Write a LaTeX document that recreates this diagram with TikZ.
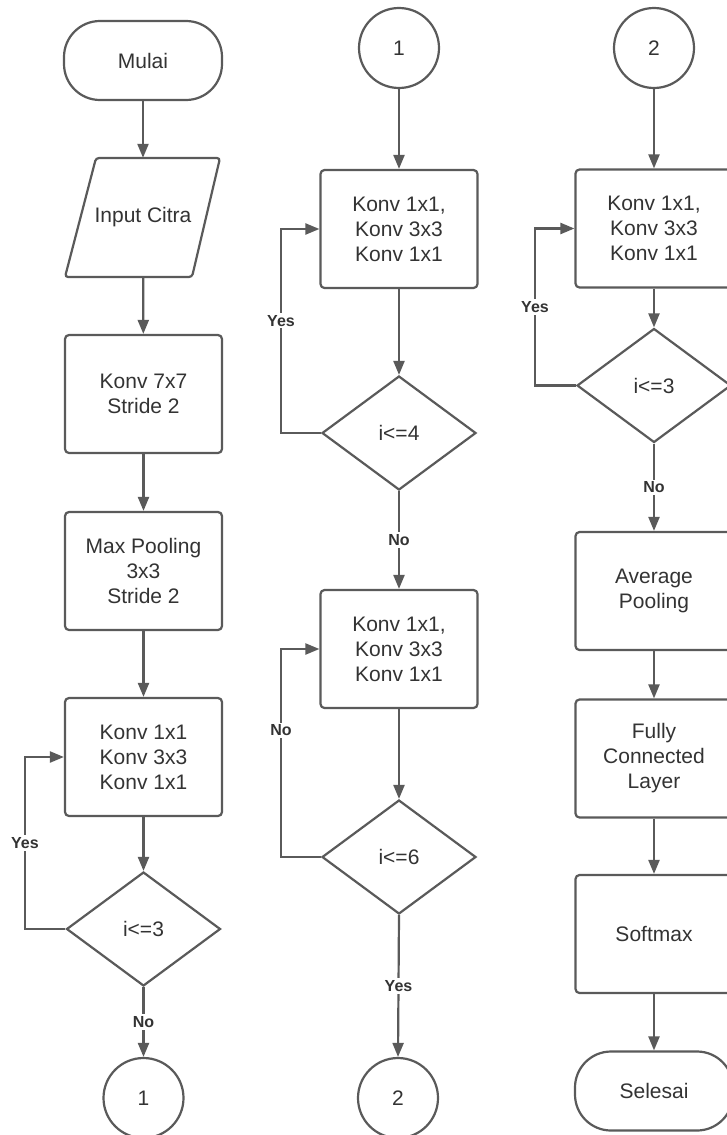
\documentclass[tikz,border=0pt]{standalone}
\usepackage{fontspec}
\setmainfont{Liberation Sans}
\usetikzlibrary{shapes.geometric,arrows.meta}
\definecolor{lc}{HTML}{5A5A5A}
\definecolor{tc}{HTML}{333333}
\begin{document}
\begin{tikzpicture}[x=1pt,y=-1pt,
  every node/.style={text=tc, font=\fontsize{21}{25}\selectfont},
  ln/.style={draw=lc, line width=2.2pt},
  arr/.style={ln, -{Triangle[length=14pt,width=11pt]}},
  proc/.style={draw=lc, line width=2.2pt, rounded corners=4pt, minimum width=157pt, minimum height=118pt, align=center, inner sep=0pt},
  term/.style={draw=lc, line width=2.2pt, rounded corners=36pt, minimum width=158pt, minimum height=79pt, inner sep=0pt},
  dec/.style={diamond, draw=lc, line width=2.2pt, aspect=1.35, minimum width=154pt, minimum height=114pt, inner sep=0pt},
  conn/.style={circle, draw=lc, line width=2.2pt, minimum size=80pt, inner sep=0pt},
  lab/.style={fill=white, font=\fontsize{16}{18}\selectfont\bfseries, inner sep=2pt},
]
\useasboundingbox[fill=white] (0,0) rectangle (726,1135);

% ---------- left column ----------
\node[term] (mulai) at (143,60.5) {Mulai};
\node[minimum width=100pt, minimum height=119pt, inner sep=0pt] (input) at (143,217.5) {Input Citra};
\draw[ln, rounded corners=3pt] (96,158) -- (220,158) -- (192,277) -- (65,277) -- cycle;
\node[proc] (k77) at (143.5,394) {Konv 7x7\\Stride 2};
\node[proc] (maxp) at (143.5,571) {Max Pooling\\3x3\\Stride 2};
\node[proc] (b1) at (143.5,757) {Konv 1x1\\Konv 3x3\\Konv 1x1};
\node[dec] (d1) at (143.5,929) {i<=3};
\node[conn] (c1) at (143.5,1098) {1};
\coordinate (l1a) at (25,929);
\coordinate (l1b) at (25,757);

\draw[arr] (mulai) -- (input);
\draw[arr] (input) -- (k77);
\draw[arr] (k77) -- (maxp);
\draw[arr] (maxp) -- (b1);
\draw[arr] (b1) -- (d1);
\draw[arr] (d1.west) -- (l1a) -- node[lab]{Yes} (l1b) -- (b1.west);
\draw[arr] (d1.south) -- node[lab]{No} (c1.north);

% ---------- middle column ----------
\node[conn] (m1) at (399,48) {1};
\node[proc] (b2) at (399,229) {Konv 1x1,\\Konv 3x3\\Konv 1x1};
\node[dec] (d2) at (399,433) {i<=4};
\node[proc] (b3) at (399,649) {Konv 1x1,\\Konv 3x3\\Konv 1x1};
\node[dec] (d3) at (399,857) {i<=6};
\node[conn] (c2) at (398,1098) {2};
\coordinate (l2a) at (281,433);
\coordinate (l2b) at (281,229);
\coordinate (l3a) at (281,857);
\coordinate (l3b) at (281,649);

\draw[arr] (m1) -- (b2);
\draw[arr] (b2) -- (d2);
\draw[arr] (d2.west) -- (l2a) -- node[lab, pos=0.55]{Yes} (l2b) -- (b2.west);
\draw[arr] (d2.south) -- node[lab]{No} (b3.north);
\draw[arr] (b3) -- (d3);
\draw[arr] (d3.west) -- (l3a) -- node[lab, pos=0.61]{No} (l3b) -- (b3.west);
\draw[arr] (d3.south) -- node[lab]{Yes} (c2.north);

% ---------- right column ----------
\node[conn] (r2) at (654,48) {2};
\node[proc] (b4) at (654,228.5) {Konv 1x1,\\Konv 3x3\\Konv 1x1};
\node[dec] (d4) at (654,385.5) {i<=3};
\node[proc] (avg) at (654,591) {Average\\Pooling};
\node[proc] (fc) at (654,758.5) {Fully\\Connected\\Layer};
\node[proc] (soft) at (654,934) {Softmax};
\node[term] (sel) at (654,1091) {Selesai};
\coordinate (l4a) at (535,385.5);
\coordinate (l4b) at (535,228.5);

\draw[arr] (r2) -- (b4);
\draw[arr] (b4) -- (d4);
\draw[arr] (d4.west) -- (l4a) -- node[lab]{Yes} (l4b) -- (b4.west);
\draw[arr] (d4.south) -- node[lab]{No} (avg.north);
\draw[arr] (avg) -- (fc);
\draw[arr] (fc) -- (soft);
\draw[arr] (soft) -- (sel);
\end{tikzpicture}
\end{document}
